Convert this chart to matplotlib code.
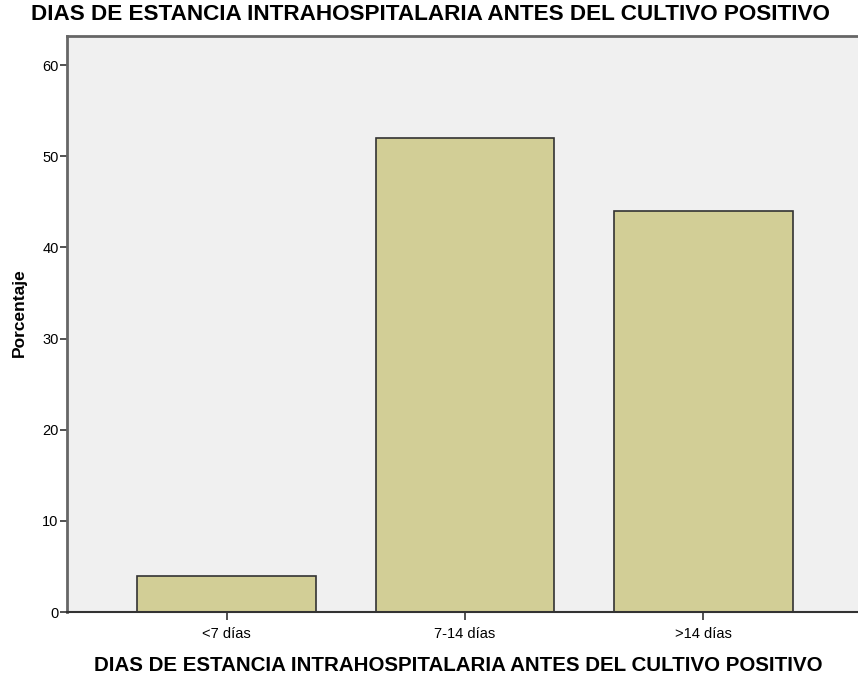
import matplotlib
matplotlib.use("Agg")
import matplotlib.pyplot as plt

categorias = ["<7 días", "7-14 días", ">14 días"]
porcentaje = [4, 52, 44]
yticks = [0, 10, 20, 30, 40, 50, 60]
titulo = "DIAS DE ESTANCIA INTRAHOSPITALARIA ANTES DEL CULTIVO POSITIVO"

plt.rcParams['font.family'] = ['Liberation Sans', 'DejaVu Sans']

fig = plt.figure(figsize=(8.58, 6.77), dpi=100)
ax = fig.add_axes([67 / 858, 1 - 612 / 677, 1 - 67 / 858, (612 - 36) / 677])
ax.set_facecolor("#f0f0f0")

x = range(len(categorias))
ax.bar(x, porcentaje, width=0.75, color="#d2ce96", edgecolor="#333333", linewidth=1.2)

ax.set_xlim(-0.669, 2.648)
ax.set_ylim(0, 63.2)
ax.set_xticks(list(x))
ax.set_xticklabels(categorias, fontsize=10.5)
ax.set_yticks(yticks)
ax.tick_params(axis="y", labelsize=10.5, length=5, width=1.2, color="#333333", pad=1)
ax.tick_params(axis="x", length=6, width=1.2, color="#333333", pad=5)

for s in ["top", "left"]:
    ax.spines[s].set_color("#666666")
    ax.spines[s].set_linewidth(2)
ax.spines["bottom"].set_color("#333333")
ax.spines["bottom"].set_linewidth(1.5)
ax.spines["right"].set_visible(False)

ax.set_ylabel("Porcentaje", fontsize=12.5, fontweight="bold")
ax.yaxis.set_label_coords(-40 / 791, 0.52)
ax.set_xlabel(titulo, fontsize=14.8, fontweight="bold")
ax.xaxis.set_label_coords(0.494, -44 / 576)
fig.text(0.5 * (28 + 832) / 858, 1 - 14 / 677, titulo, fontsize=16.2,
         fontweight="bold", va="center", ha="center")

fig.savefig("out.png", dpi=100)
